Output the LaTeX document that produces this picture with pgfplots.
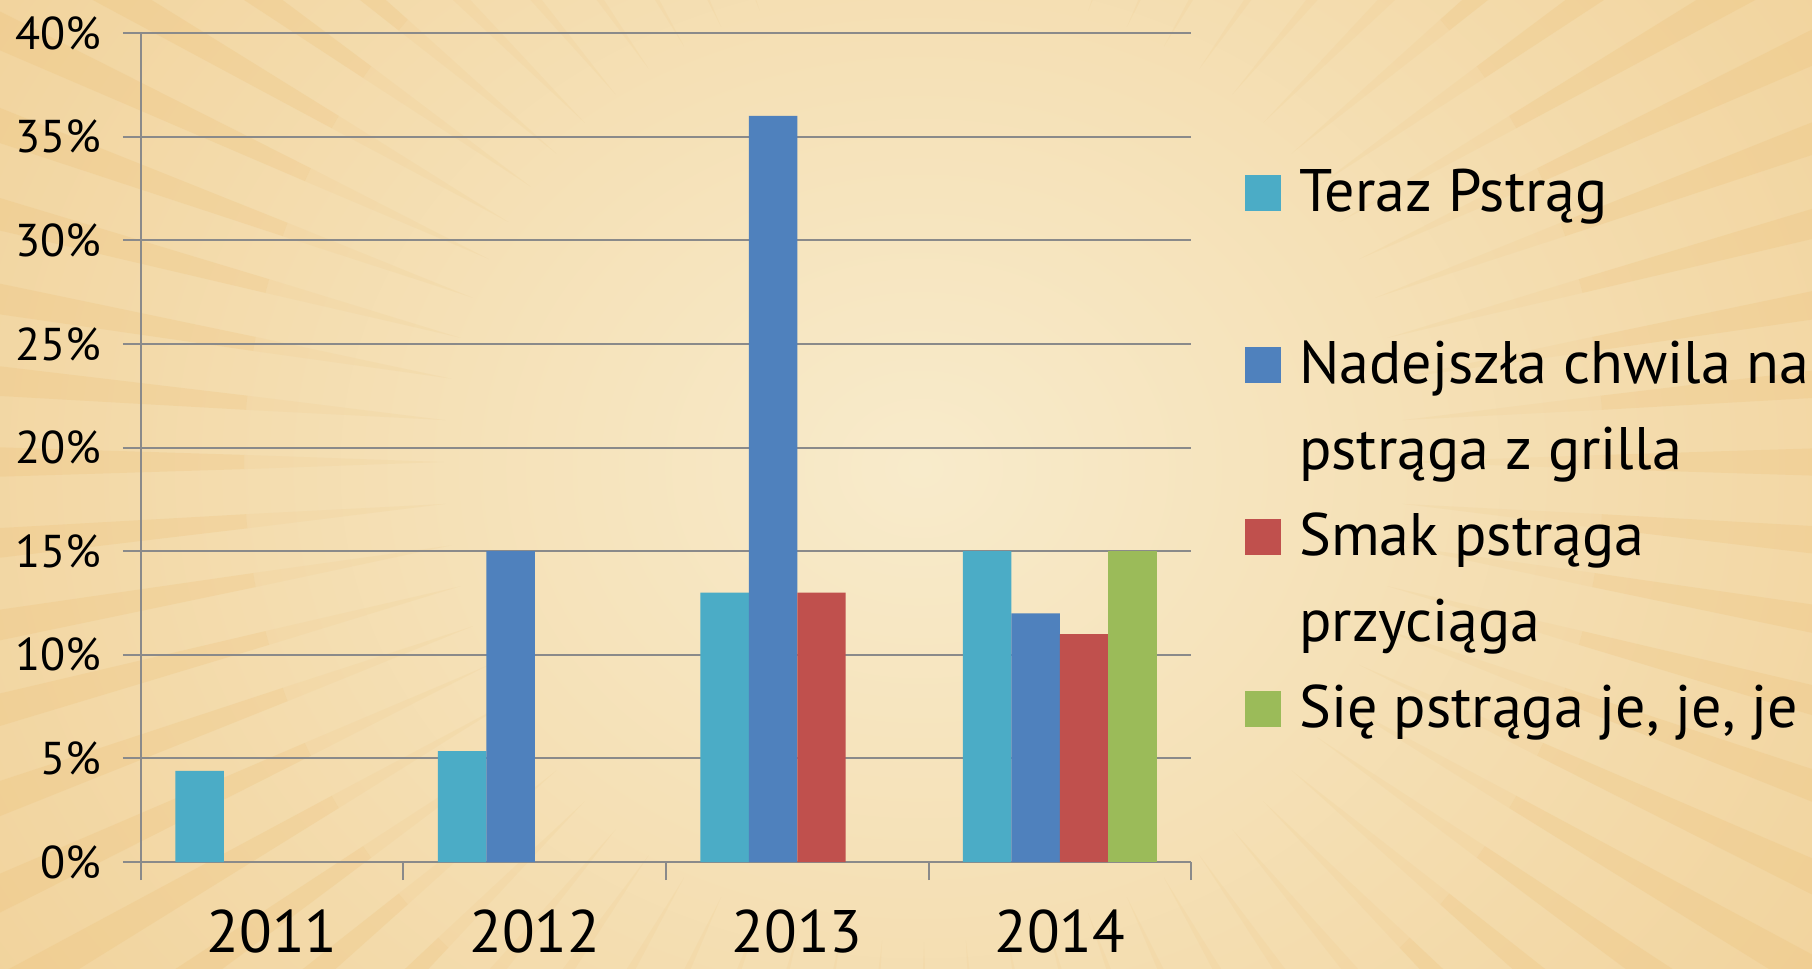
\documentclass[border=0pt]{standalone}
\usepackage{pgfplots}
\pgfplotsset{compat=1.18}
\usepackage{fontspec}
\setmainfont{PT Sans}
\definecolor{cTeraz}{HTML}{4BACC6}
\definecolor{cNad}{HTML}{4F81BD}
\definecolor{cSmak}{HTML}{C0504D}
\definecolor{cSie}{HTML}{9BBB59}
\definecolor{bgIn}{HTML}{F8EBCB}
\definecolor{bgOut}{HTML}{F1D29A}
\definecolor{ray}{HTML}{EBBB6E}
\definecolor{gridc}{HTML}{8A8A8A}
\newcommand\la{\rule[-3pt]{0pt}{14pt}}
\newcommand\lb{\rule[-7pt]{0pt}{18pt}}
\begin{document}
\begin{tikzpicture}
\useasboundingbox (0,0) rectangle (453pt,242pt);
\begin{scope}
\clip (0,0) rectangle (453pt,242pt);
\shade[inner color=bgIn, outer color=bgOut] (-60pt,-120pt) rectangle (520pt,370pt);
\foreach \a in {0,5,...,355}{
  \fill[ray, opacity=0.10] ([shift={(\a:120pt)}]231pt,126.5pt) -- ([shift={(\a-0.6:170pt)}]231pt,126.5pt) -- ([shift={(\a+0.6:170pt)}]231pt,126.5pt) -- cycle;
  \fill[ray, opacity=0.22] ([shift={(\a-0.6:170pt)}]231pt,126.5pt) -- ([shift={(\a-1.3:420pt)}]231pt,126.5pt) -- ([shift={(\a+1.3:420pt)}]231pt,126.5pt) -- ([shift={(\a+0.6:170pt)}]231pt,126.5pt) -- cycle;
}
\end{scope}
\begin{axis}[
  at={(35.25pt,26.5pt)}, anchor=south west,
  scale only axis, width=262.5pt, height=207.25pt,
  xmin=0.5, xmax=4.5, ymin=0, ymax=40,
  axis x line*=bottom, axis y line*=left,
  axis line style={gridc, line width=0.5pt, -},
  tick align=outside,
  ytick={0,5,...,40},
  yticklabels={0\%,5\%,10\%,15\%,20\%,25\%,30\%,35\%,40\%},
  yticklabel style={font=\fontsize{11.5}{13}\selectfont, xshift=-2pt},
  ymajorgrids, grid style={gridc, line width=0.5pt},
  major tick length=4.5pt,
  tick style={gridc, line width=0.5pt},
  xtick={0.5,1.5,2.5,3.5,4.5}, xticklabels={},
  extra x ticks={1,2,3,4},
  extra x tick labels={2011,2012,2013,2014},
  extra x tick style={major tick length=0pt, tick style={draw=none},
     xticklabel style={font=\fontsize{15}{17}\selectfont, yshift=-8.5pt}},
  ybar, bar width=12.1pt,
  legend style={at={(1.0505,0.848)}, anchor=north west, draw=none, fill=none,
     inner sep=0pt, row sep=5.0pt, font=\fontsize{15}{18}\selectfont,
     cells={anchor=base west, inner ysep=0pt}},
  legend image code/.code={\path[draw=none,fill=none] (0pt,0pt) rectangle (11.6pt,1pt);\fill[#1] (0pt,0.3pt) rectangle (9pt,9.3pt);},
]
\addplot[fill=cTeraz, draw=none, bar shift=-18.15pt] coordinates {(1,4.4) (2,5.35) (3,13) (4,15)};
\addlegendentry{\la Teraz Pstrąg}
\addlegendimage{empty legend}
\addlegendentry{\lb}
\addplot[fill=cNad, draw=none, bar shift=-6.05pt] coordinates {(2,15) (3,36) (4,12)};
\addlegendentry{\la Nadejszła chwila na}
\addlegendimage{empty legend}
\addlegendentry{\lb pstrąga z grilla}
\addplot[fill=cSmak, draw=none, bar shift=6.05pt] coordinates {(3,13) (4,11)};
\addlegendentry{\la Smak pstrąga}
\addlegendimage{empty legend}
\addlegendentry{\lb przyciąga}
\addplot[fill=cSie, draw=none, bar shift=18.15pt] coordinates {(4,15)};
\addlegendentry{\la Się pstrąga je, je, je}
\end{axis}
\end{tikzpicture}
\end{document}
